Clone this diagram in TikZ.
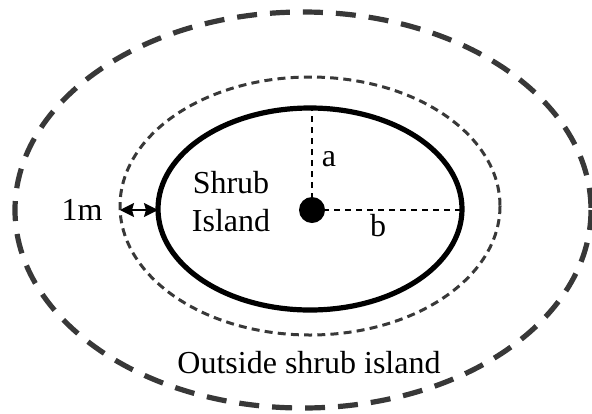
\documentclass[tikz,border=0pt]{standalone}
\usepackage{fontspec}
\setmainfont{Liberation Serif}
\usetikzlibrary{arrows.meta,positioning}

\begin{document}
\begin{tikzpicture}[
    x=0.5pt,
    y=-0.5pt,
    >=Stealth,
    ile/.style={
        line width=2.6pt,
        draw=black
    },
    tampon/.style={
        line width=1.5pt,
        draw=black!78,
        dash pattern=on 4pt off 2.6pt
    },
    dehors/.style={
        line width=2.6pt,
        draw=black!78,
        dash pattern=on 10pt off 6.5pt
    },
    rayon/.style={
        line width=0.8pt,
        dash pattern=on 3pt off 2.5pt
    },
    fleche/.style={
        line width=1pt,
        {Stealth[length=7pt,width=7pt,inset=1pt]}-{Stealth[length=7pt,width=7pt,inset=1pt]}
    },
    texte/.style={
        font=\fontsize{16}{19}\selectfont
    }
]
\useasboundingbox (0,0) rectangle (592,413);

% Ellipses
\draw[dehors] (303,210) ellipse [x radius=288, y radius=198];
\draw[tampon] (310,206) ellipse [x radius=190, y radius=129];
\draw[ile] (310,209) ellipse [x radius=152, y radius=101];

% Centre and semi-axes
\coordinate (haut) at (312,108);
\coordinate (droite) at (462,210);
\coordinate (buffer) at (120,210);
\coordinate (bord) at (158,210);
\node[circle, fill=black, inner sep=0pt, minimum size=13pt] (centre) at (312,210) {};

\draw[rayon] (centre.center) -- (haut);
\draw[rayon] (centre.center) -- (droite);

% 1 m buffer
\draw[fleche] (buffer) -- (bord);

% Labels
\node[texte] (lba) at (329,159) {a};
\node[texte] (lbb) at (378,226) {b};
\node[texte] (lbm) at (82,210) {1m};
\node[texte, align=center] (ilot) at (231,202) {Shrub\\Island};
\node[texte] (dehorslb) at (309,363) {Outside shrub island};

\end{tikzpicture}
\end{document}
